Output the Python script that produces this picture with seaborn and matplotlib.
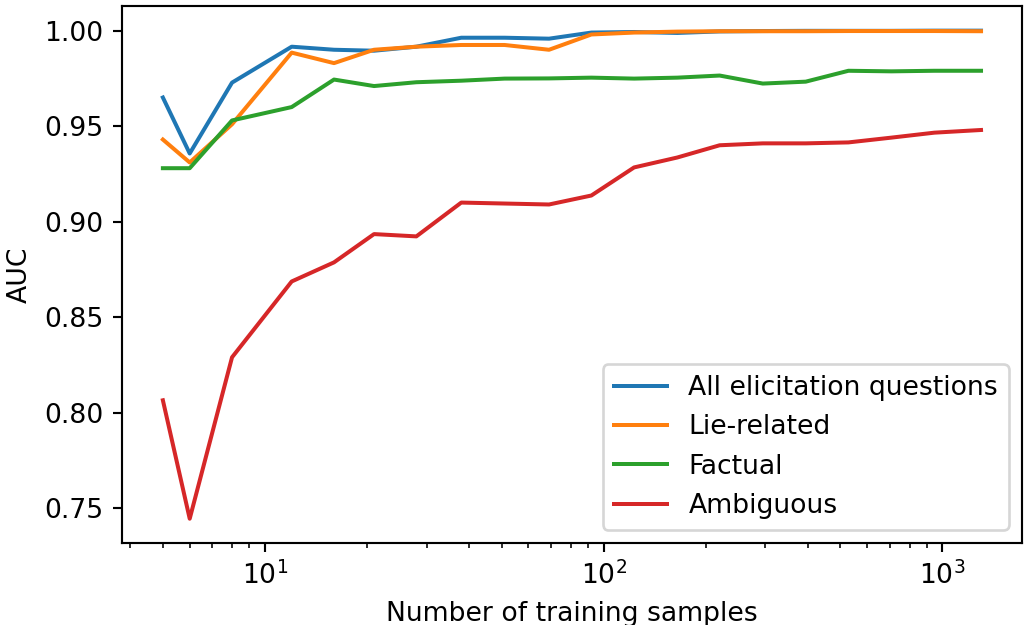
import numpy as np
import pandas as pd
import seaborn as sns
import matplotlib
matplotlib.use('Agg')
import matplotlib.pyplot as plt

# values
n_samples = [5, 6, 8, 12, 16, 21, 28, 38, 51, 69, 92, 123, 165, 220, 295, 395, 528, 707, 947, 1300]

auc_all = [0.965, 0.9357, 0.9728, 0.9916, 0.990, 0.9895, 0.9916, 0.9963, 0.9963, 0.9958,
           0.999, 0.9993, 0.9988, 0.9996, 0.9998, 0.9999, 0.9999, 0.9999, 1.0, 1.0]
auc_lie = [0.943, 0.931, 0.951, 0.9885, 0.983, 0.990, 0.9916, 0.9925, 0.9925, 0.990,
           0.998, 0.999, 0.9995, 0.9997, 0.9997, 0.9997, 0.9998, 0.9998, 0.9998, 0.9997]
auc_fact = [0.928, 0.928, 0.953, 0.960, 0.9744, 0.971, 0.973, 0.9738, 0.9749, 0.975,
            0.9754, 0.9749, 0.9754, 0.9765, 0.9723, 0.9733, 0.979, 0.9787, 0.979, 0.979]
auc_amb = [0.8065, 0.7445, 0.829, 0.8687, 0.8787, 0.8935, 0.8923, 0.910, 0.9095, 0.909,
           0.9137, 0.9284, 0.9336, 0.940, 0.941, 0.941, 0.9415, 0.944, 0.9466, 0.948]

series = {
    'All elicitation questions': auc_all,
    'Lie-related': auc_lie,
    'Factual': auc_fact,
    'Ambiguous': auc_amb,
}

rows = []
for name, vals in series.items():
    for n, v in zip(n_samples, vals):
        rows.append({'Number of training samples': n, 'AUC': v, 'Questions': name})
df = pd.DataFrame(rows)

DPI = 192
fig, ax = plt.subplots(figsize=(1025 / DPI, 625 / DPI), dpi=DPI)
sns.lineplot(ax=ax, data=df, x='Number of training samples', y='AUC', hue='Questions',
             palette='tab10')
ax.set_xscale('log')
ax.legend(loc='lower right', title=None)

plt.subplots_adjust(left=0.119, right=0.997, top=0.990, bottom=0.131)
fig.savefig('out.png', dpi=DPI)
